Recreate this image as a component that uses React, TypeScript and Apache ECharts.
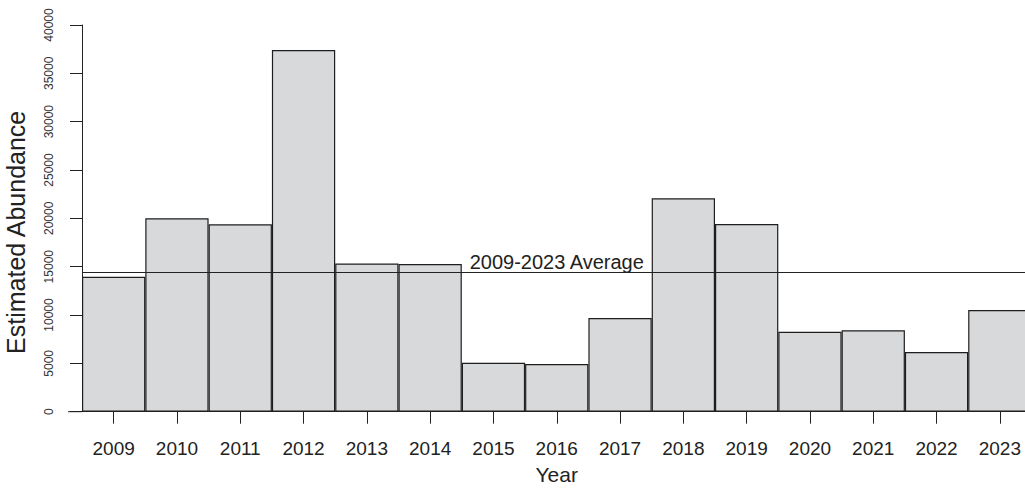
import React, { useEffect, useRef } from "react";
import * as echarts from "echarts";

const years = ["2009", "2010", "2011", "2012", "2013", "2014", "2015", "2016", "2017", "2018", "2019", "2020", "2021", "2022", "2023"];
const abundance = [13960, 20000, 19380, 37410, 15330, 15280, 5070, 4930, 9690, 22070, 19420, 8270, 8420, 6180, 10520];
const yMin = 0;
const yMax = 40000;
const yInterval = 5000;
const averageLabel = "2009-2023 Average";
const xTitle = "Year";
const yTitle = "Estimated Abundance";
const average = abundance.reduce((a, b) => a + b, 0) / abundance.length;

const FONT = "'Liberation Sans', Arial, Helvetica, sans-serif";
const GRID_LEFT = 82;

export default function App() {
  const ref = useRef<HTMLDivElement>(null);
  useEffect(() => {
    if (!ref.current) return;
    const chart = echarts.init(ref.current, null, { renderer: "svg" });
    chart.setOption({
      animation: false,
      backgroundColor: "#ffffff",
      textStyle: { fontFamily: FONT },
      grid: {
        left: GRID_LEFT,
        top: 25,
        right: -6.5,
        bottom: 78.3,
        containLabel: false,
        outerBoundsMode: "none",
      },
      xAxis: {
        type: "category",
        data: years,
        boundaryGap: true,
        name: xTitle,
        nameLocation: "middle",
        nameGap: 52,
        nameTextStyle: { fontSize: 21, color: "#222", fontFamily: FONT },
        axisLine: { show: true, lineStyle: { color: "#222", width: 1 } },
        axisTick: { show: true, alignWithLabel: true, length: 12, lineStyle: { color: "#222", width: 1 } },
        axisLabel: { fontSize: 19, color: "#222", margin: 27, fontFamily: FONT, interval: 0 },
        splitLine: { show: false },
      },
      yAxis: {
        type: "value",
        min: yMin,
        max: yMax,
        interval: yInterval,
        name: yTitle,
        nameLocation: "middle",
        nameGap: 54,
        nameTextStyle: { fontSize: 25, color: "#222", fontFamily: FONT, padding: [0, 28, 0, 0] },
        axisLine: { show: true, lineStyle: { color: "#222", width: 1 } },
        axisTick: { show: true, length: 12, lineStyle: { color: "#222", width: 1 } },
        axisLabel: {
          fontSize: 12,
          color: "#333",
          rotate: 90,
          margin: 27,
          fontFamily: FONT,
          formatter: (v: number) => String(v),
        },
        splitLine: { show: false },
      },
      series: [
        {
          type: "bar",
          data: abundance,
          barCategoryGap: "0%",
          itemStyle: { color: "#d7d9da", borderColor: "#1e1e1e", borderWidth: 1.2 },
          markLine: {
            silent: true,
            symbol: ["none", "none"],
            lineStyle: { color: "#222", width: 1, type: "solid" },
            label: {
              show: true,
              position: "insideMiddleTop",
              formatter: averageLabel,
              fontSize: 20,
              color: "#222",
              fontFamily: FONT,
              distance: 1,
            },
            data: [{ yAxis: average }],
          },
        },
      ],
    });
    const y0 = chart.convertToPixel({ yAxisIndex: 0 }, 0) as number;
    chart.setOption({
      graphic: [
        {
          type: "line",
          shape: { x1: 68, y1: y0, x2: GRID_LEFT, y2: y0 },
          style: { stroke: "#222", lineWidth: 1 },
        },
      ],
    });
    return () => chart.dispose();
  }, []);
  return (
    <div
      ref={ref}
      style={{ position: "absolute", left: 0, top: 0, width: 1025, height: 490, background: "#fff" }}
    />
  );
}
